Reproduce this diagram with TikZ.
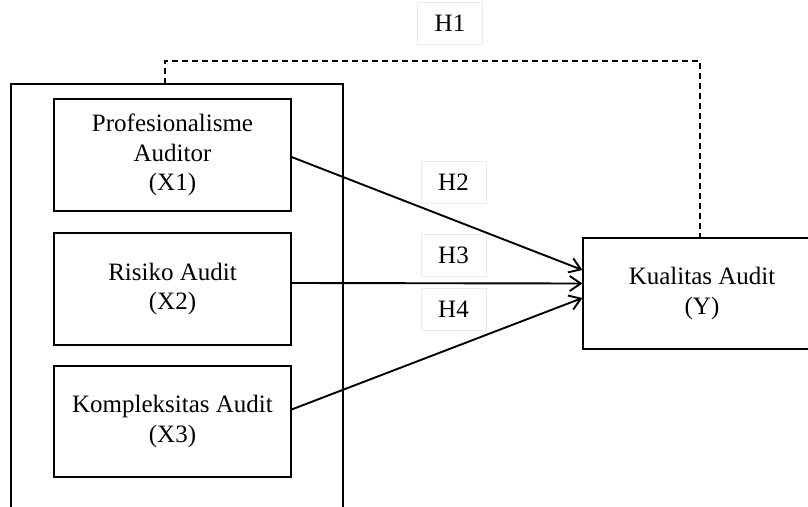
\documentclass[tikz,border=0pt]{standalone}
\usepackage{fontspec}
\setmainfont{Liberation Serif}
\usetikzlibrary{arrows.meta,calc}
\begin{document}
\begin{tikzpicture}[x=1pt,y=-1pt,
  every node/.style={font=\fontsize{25}{29.5}\selectfont, inner sep=0pt, align=center},
  varbox/.style={draw, line width=1.2pt, minimum width=237pt, minimum height=112pt},
  hlabel/.style={draw=black!8, line width=0.8pt, minimum width=65pt, minimum height=42pt},
  arr/.style={line width=1.9pt, -{Straight Barb[length=11pt,width=15pt,line width=1.9pt]}},
  dashline/.style={line width=1.6pt, dash pattern=on 6pt off 4pt}
]
\useasboundingbox (0,0) rectangle (808,506);
\clip (0,0) rectangle (808,506);
% outer group box
\node[draw, line width=1.2pt, minimum width=332pt, minimum height=440pt] (outer) at (177,304) {};
% variable boxes
\node[varbox] (x1) at (172.5,155) {Profesionalisme\\Auditor\\(X1)};
\node[varbox] (x2) at (172.5,289) {Risiko Audit\\(X2)};
\node[varbox, minimum height=111pt] (x3) at (172.5,421.5) {Kompleksitas Audit\\(X3)};
\node[draw, line width=1.2pt, minimum width=238pt, minimum height=111pt] (y) at (702,293.5) {Kualitas Audit\\(Y)};
% hypothesis labels
\node[hlabel] (h1) at (450,23) {H1};
\node[hlabel] (h2) at (453.5,182) {H2};
\node[hlabel] (h3) at (453.5,255.5) {H3};
\node[hlabel] (h4) at (453.5,309.5) {H4};
% connector points
\coordinate (a1) at ($(x1.east)+(0,2)$);
\coordinate (a2) at ($(x2.east)+(0,-6)$);
\coordinate (a3) at ($(x3.east)+(0,-12)$);
\coordinate (t2) at ($(y.west)+(0,-23.5)$);
\coordinate (t3) at ($(y.west)+(0,-10)$);
\coordinate (t4) at ($(y.west)+(0,4.5)$);
\draw[arr] (a1) -- (t2);
\draw[arr] (a2) -- (t3);
\draw[arr] (a3) -- (t4);
% dashed H1 connector
\coordinate (d1) at (165,84);
\coordinate (d2) at (700,238);
\draw[dashline] (d1) -- (165,61) -- (700,61) -- (d2);
\end{tikzpicture}
\end{document}
